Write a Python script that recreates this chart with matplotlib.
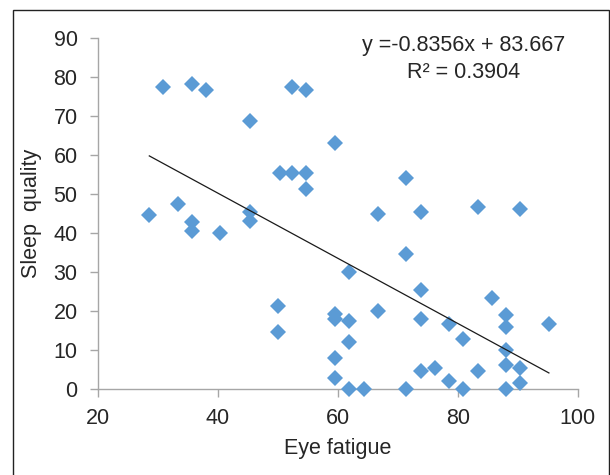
import matplotlib
matplotlib.use("Agg")
import matplotlib.pyplot as plt
from matplotlib.patches import Rectangle
import numpy as np

plt.rcParams['font.family'] = ['Liberation Sans', 'DejaVu Sans']

eye_fatigue = [30.9, 35.7, 38.05, 52.4, 54.7, 45.3, 59.5, 50.3, 52.4, 54.7,
               54.7, 28.6, 33.3, 45.3, 45.3, 35.7, 35.7, 40.4, 50.0, 50.0,
               59.5, 59.5, 59.5, 59.5, 61.9, 61.9, 61.9, 61.9, 64.3, 66.7,
               73.8, 83.3, 90.4, 71.4, 71.4, 73.8, 85.7, 66.7, 73.8, 78.6,
               88.0, 88.0, 95.2, 80.9, 88.0, 73.8, 76.2, 83.3, 88.0, 90.4,
               78.6, 90.4, 71.4, 80.9, 88.0]
sleep_quality = [77.4, 78.2, 76.7, 77.4, 76.7, 68.7, 63.0, 55.3, 55.3, 55.3,
                 51.4, 44.7, 47.4, 45.5, 43.2, 42.9, 40.5, 39.9, 21.3, 14.7,
                 19.2, 17.9, 8.0, 2.7, 30.1, 17.4, 12.1, 0.0, 0.0, 44.8,
                 45.3, 46.7, 46.2, 54.0, 34.6, 25.4, 23.3, 20.0, 17.9, 16.7,
                 19.0, 16.0, 16.7, 12.7, 10.0, 4.7, 5.3, 4.6, 6.2, 5.3,
                 2.0, 1.5, 0.0, 0.0, 0.0]
slope = -0.8356
intercept = 83.667
equation_text = "y =-0.8356x + 83.667"
r2_text = "R² = 0.3904"
x_ticks = [20, 40, 60, 80, 100]
y_ticks = [0, 10, 20, 30, 40, 50, 60, 70, 80, 90]

W, H = 610, 475
FS = 15.5
fig = plt.figure(figsize=(W / 100, H / 100), dpi=100)
fig.patch.set_facecolor('white')

# outer frame
fig.patches.append(Rectangle((12.7 / W, -0.05), (608.5 - 12.7) / W, 1.05 - 10.3 / H,
                             transform=fig.transFigure, fill=False,
                             edgecolor='#222222', linewidth=1.0))

ax = fig.add_axes([97.7 / W, 1 - 389 / H, (577.7 - 97.7) / W, (389 - 38) / H])
ax.set_xlim(20, 100)
ax.set_ylim(0, 90)

ax.plot(eye_fatigue, sleep_quality, linestyle='none', marker='D',
        markersize=8.5, color='#5B9BD5', markeredgewidth=0, clip_on=False, zorder=3)

xs = np.array([min(eye_fatigue), max(eye_fatigue)])
ax.plot(xs, slope * xs + intercept, color='#1a1a1a', linewidth=0.9, zorder=4)

for s in ['top', 'right']:
    ax.spines[s].set_visible(False)
for s in ['left', 'bottom']:
    ax.spines[s].set_color('#A6A6A6')
    ax.spines[s].set_linewidth(1.0)

ax.set_xticks(x_ticks)
ax.set_yticks(y_ticks)
ax.tick_params(axis='both', direction='out', length=6, width=1.0, color='#A6A6A6',
               labelsize=FS, labelcolor='#262626')
ax.tick_params(axis='y', pad=8.5)
ax.tick_params(axis='x', pad=7.5)

ax.set_xlabel('Eye fatigue', fontsize=FS, color='#262626', labelpad=7)
ax.set_ylabel('Sleep  quality', fontsize=FS, color='#262626', labelpad=8)

fig.text(464 / W, 1 - 45 / H, equation_text, ha='center', va='center',
         fontsize=FS, color='#262626')
fig.text(464 / W, 1 - 73 / H, r2_text, ha='center', va='center',
         fontsize=FS, color='#262626')

fig.savefig('out.png', dpi=100)
